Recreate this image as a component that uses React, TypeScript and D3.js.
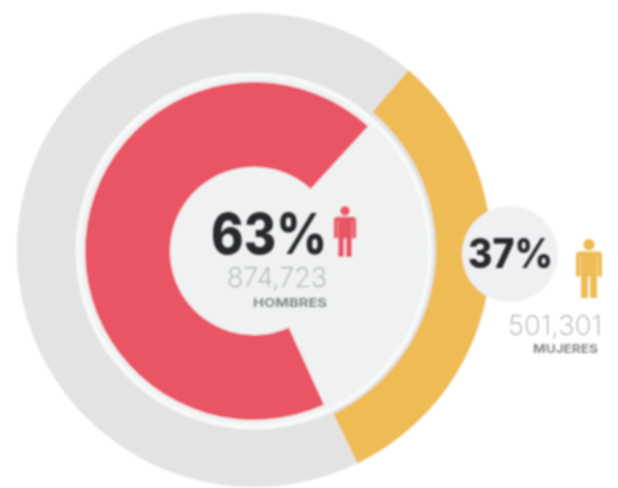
import React from "react";
import * as d3 from "d3";

const shares = [63, 37];
const labels = ["63%", "37%"];
const counts = ["874,723", "501,301"];
const names = ["HOMBRES", "MUJERES"];
const colors = ["#ea5566", "#eebb55"];

const tau = Math.PI * 2;
const cx = 254, cy = 250;
const redStart = 0.432, redEnd = 1.118;
const yellowStart = 0.113, yellowEnd = 0.428;

function Person({ x, y, h, fill }: { x: number; y: number; h: number; fill: string }) {
  const s = h / 52;
  return (
    <g transform={`translate(${x},${y}) scale(${s})`} fill={fill}>
      <circle cx={0} cy={5} r={5} />
      <path d="M-8,11 H8 Q11.5,11 11.5,14 V33 H7.5 V15 H7 V52 H1 V33 H-1 V52 H-7 V15 H-7.5 V33 H-11.5 V14 Q-11.5,11 -8,11 Z" />
    </g>
  );
}

export default function App() {
  const arc = d3.arc();
  const scale = d3.scaleLinear().domain([0, 1]).range([0, tau]);
  const outer = arc({ innerRadius: 0, outerRadius: 237, startAngle: 0, endAngle: tau })!;
  const yellow = arc({ innerRadius: 182, outerRadius: 237, startAngle: scale(yellowStart), endAngle: scale(yellowEnd) })!;
  const red = arc({ innerRadius: 84, outerRadius: 169, startAngle: scale(redStart), endAngle: scale(redEnd) })!;
  return (
    <svg width={618} height={488} style={{ position: "absolute", left: 0, top: 0, fontFamily: "Inter, sans-serif" }}>
      <defs><filter id="b"><feGaussianBlur stdDeviation="1.1" /></filter></defs>
      <rect width={618} height={488} fill="#fff" />
      <g filter="url(#b)">
        <path d={outer} transform={`translate(${cx},${cy})`} fill="#e3e3e3" />
        <circle cx={cx} cy={cy + 1} r={176} fill="#f0f2f2" stroke="#f7f9f9" strokeWidth={5} />
        <path d={yellow} transform={`translate(${cx},${cy})`} fill={colors[1]} />
        <path d={red} transform={`translate(${cx},${cy + 1})`} fill={colors[0]} />
        <circle cx={510} cy={254} r={48} fill="#eff0f2" />
        <Person x={345} y={206} h={51} fill={colors[0]} />
        <Person x={589} y={239} h={59} fill={colors[1]} />
      </g>
      <g style={{ filter: "blur(0.8px)" }}>
        <text x={211} y={254} fontSize={56} fontWeight={800} fill="#26282c" textLength={116} lengthAdjust="spacingAndGlyphs">{labels[0]}</text>
        <text x={227} y={287} fontSize={27} fontWeight={200} fill="#a9acae" textLength={100} lengthAdjust="spacingAndGlyphs">{counts[0]}</text>
        <text x={253} y={307} fontSize={12} fontWeight={700} fill="#85888a" textLength={74} lengthAdjust="spacingAndGlyphs">{names[0]}</text>
        <text x={468} y={268} fontSize={41} fontWeight={800} fill="#26282c" textLength={85} lengthAdjust="spacingAndGlyphs">{labels[1]}</text>
        <text x={508} y={335} fontSize={27} fontWeight={200} fill="#a9acae" textLength={94} lengthAdjust="spacingAndGlyphs">{counts[1]}</text>
        <text x={533} y={353} fontSize={12} fontWeight={700} fill="#85888a" textLength={65} lengthAdjust="spacingAndGlyphs">{names[1]}</text>
      </g>
    </svg>
  );
}
